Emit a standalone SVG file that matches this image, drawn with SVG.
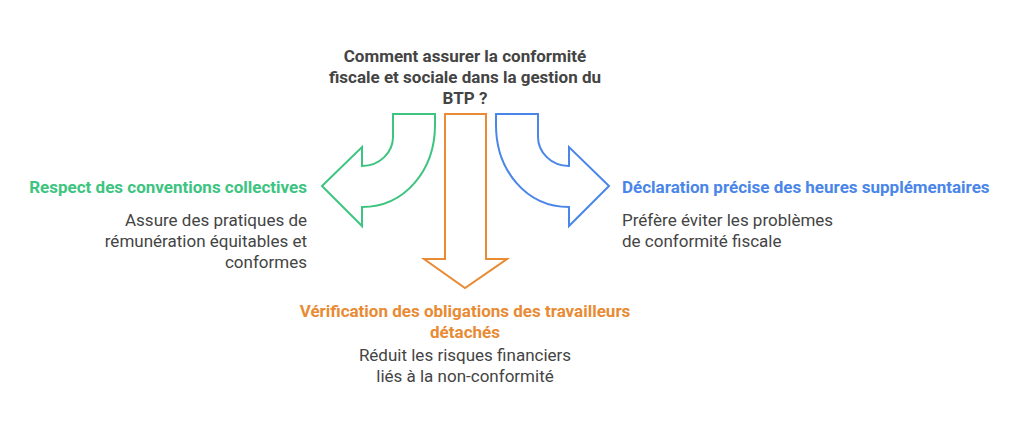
<svg xmlns="http://www.w3.org/2000/svg" width="1024" height="425" viewBox="0 0 1024 425">
<style>
text{font-family:Roboto,"Liberation Sans",sans-serif;font-size:17px;fill:#444}
.b{font-weight:bold}
.a{fill:none;stroke-width:2;stroke-linejoin:miter}
</style>
<rect width="1024" height="425" fill="#fff"/>
<g id="connectors">
<path class="a" stroke="#3dc480" d="M393,114 H435 V125 C435,170 405,207 362,207 V226 L322,186 L362,147 V166 C380,166 393,152 393,137 Z"/>
<path class="a" stroke="#e88b34" d="M445,114 H486 V259 H507 L465,288 L424,259 H445 Z"/>
<path class="a" stroke="#4a86e8" d="M538,114 H496 V125 C496,170 526,207 569,207 V226 L609,186 L569,147 V166 C551,166 538,152 538,137 Z"/>
</g>
<g id="title"><text class="b" text-anchor="middle" x="465" y="62">Comment assurer la conformité</text><text class="b" text-anchor="middle" x="465" y="83">fiscale et sociale dans la gestion du</text><text class="b" text-anchor="middle" x="465" y="104">BTP ?</text></g>
<g id="green"><text class="b" x="307" y="193" text-anchor="end" style="fill:#3dc480">Respect des conventions collectives</text>
<text x="307" y="226" text-anchor="end">Assure des pratiques de</text><text x="307" y="247" text-anchor="end">rémunération équitables et</text><text x="307" y="268" text-anchor="end">conformes</text></g>
<g id="blue"><text class="b" x="622" y="193" style="fill:#4a86e8">Déclaration précise des heures supplémentaires</text>
<text x="622" y="226">Préfère éviter les problèmes</text><text x="622" y="247">de conformité fiscale</text></g>
<g id="orange"><text class="b" x="465" y="317" text-anchor="middle" style="fill:#e88b34">Vérification des obligations des travailleurs</text><text class="b" x="465" y="338" text-anchor="middle" style="fill:#e88b34">détachés</text>
<text x="465" y="361" text-anchor="middle">Réduit les risques financiers</text><text x="465" y="382" text-anchor="middle">liés à la non-conformité</text></g>
</svg>
